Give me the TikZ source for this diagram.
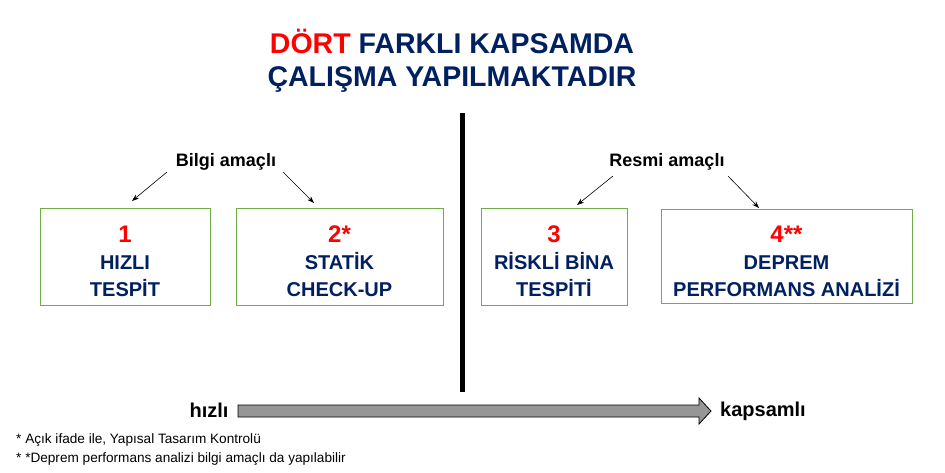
\documentclass[tikz,border=0pt]{standalone}
\usepackage{fontspec}
\setmainfont{Liberation Sans}
\usetikzlibrary{arrows.meta,positioning}
\definecolor{navy}{RGB}{0,32,96}
\definecolor{boxgreen}{RGB}{112,173,71}
\definecolor{arrowgray}{RGB}{150,150,150}
\newcommand\numara[1]{{\color{red}\fontsize{24}{28}\selectfont #1}}

\tikzset{
  kapsam/.style={draw=boxgreen, line width=0.8pt, minimum height=97pt, inner sep=0pt},
  yazi/.style={align=center, text=navy, inner sep=0pt, font=\bfseries\fontsize{20}{27}\selectfont},
  amac/.style={font=\bfseries\fontsize{18}{22}\selectfont},
  uc/.style={font=\bfseries\fontsize{20}{24}\selectfont},
  dipnot/.style={anchor=west, inner sep=0pt, font=\fontsize{13.6}{16}\selectfont},
  pointer/.style={-{Stealth[length=7pt,width=5pt]}, line width=0.6pt}
}

\begin{document}
\begin{tikzpicture}[x=1pt,y=-1pt]
		\useasboundingbox (0,0) rectangle (945,472);
		
		%% baslik
		\node[font=\bfseries\fontsize{28.5}{33}\selectfont, text=navy, align=center] (baslik) at (452,61)
			{\textcolor{red}{DÖRT} FARKLI KAPSAMDA\\ÇALIŞMA YAPILMAKTADIR};
		
		%% ayirici
		\draw[line width=5pt] (462,113) -- (462,392);
		
		%% kutular
		\node[kapsam, minimum width=170pt] (hizli) at (125,256.5) {};
		\node[kapsam, minimum width=207pt] (statik) at (339.5,256.5) {};
		\node[kapsam, minimum width=146pt] (riskli) at (554,256.5) {};
		\node[kapsam, minimum width=251pt, minimum height=94pt] (deprem) at (786.5,256) {};
		
		\node[yazi] (hizliYazi) at ([yshift=-5]hizli.center) {\numara{1}\\HIZLI\\TESPİT};
		\node[yazi] (statikYazi) at ([yshift=-5]statik.center) {\numara{2*}\\STATİK\\CHECK-UP};
		\node[yazi] (riskliYazi) at ([yshift=-5]riskli.center) {\numara{3}\\RİSKLİ BİNA\\TESPİTİ};
		\node[yazi] (depremYazi) at ([yshift=-5]deprem.center) {\numara{4**}\\DEPREM\\PERFORMANS ANALİZİ};
		
		%% amaclar
		\node[amac] (bilgi) at (226,162) {Bilgi amaçlı};
		\node[amac] (resmi) at (667,162) {Resmi amaçlı};
		
		\coordinate (bilgiSol) at (167,172);
		\coordinate (bilgiSag) at (283,172);
		\coordinate (resmiSol) at (613,176);
		\coordinate (resmiSag) at (728,176);
		\coordinate (hizliUc) at (132,201);
		\coordinate (statikUc) at (314,203);
		\coordinate (riskliUc) at (577,205);
		\coordinate (depremUc) at (759,208);
		
		\draw[pointer] (bilgiSol) -- (hizliUc);
		\draw[pointer] (bilgiSag) -- (statikUc);
		\draw[pointer] (resmiSol) -- (riskliUc);
		\draw[pointer] (resmiSag) -- (depremUc);
		
		%% hiz ekseni
		\node[uc] (hiz) at (209,410) {hızlı};
		\node[uc] (kapsamli) at (763,411) {kapsamlı};
		\draw[fill=arrowgray, line width=0.8pt] (238,405) -- (699,405) -- (699,398) -- (711,411)
			-- (699,424) -- (699,417) -- (238,417) -- cycle;
		
		%% dipnotlar
		\node[dipnot] (not1) at (16,440) {* Açık ifade ile, Yapısal Tasarım Kontrolü};
		\node[dipnot] (not2) at (16,459) {* *Deprem performans analizi bilgi amaçlı da yapılabilir};
		
\end{tikzpicture}
\end{document}
